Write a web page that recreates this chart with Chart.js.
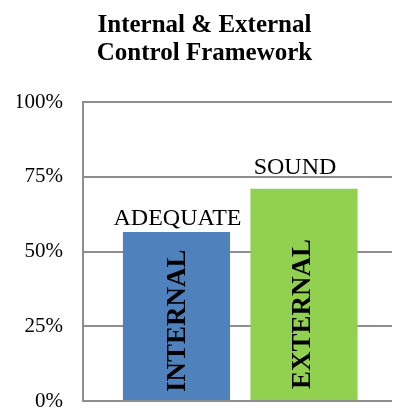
<!DOCTYPE html>
<html>
<head>
<meta charset="utf-8">
<script src="https://cdn.jsdelivr.net/npm/chart.js@4.4.0/dist/chart.umd.min.js"></script>
<style>
    html, body { margin: 0; padding: 0; background: #fff; }
    #wrap { width: 393px; height: 408px; }
</style>
</head>
<body>
<div id="wrap"><canvas id="grafico" width="393" height="408"></canvas></div>
<script>
// dados do gráfico
const categorias = ['INTERNAL', 'EXTERNAL'];
const valores = [56.5, 71];
const avaliacoes = ['ADEQUATE', 'SOUND'];
const ticksY = [0, 25, 50, 75, 100];

const serif = '"Liberation Serif", "Times New Roman", serif';

// desenha os rótulos sobre e dentro das barras
const rotulosPlugin = {
    id: 'rotulos',
    afterDatasetsDraw(chart, args, opts) {
        const ctx = chart.ctx;
        const meta = chart.getDatasetMeta(0);
        meta.data.forEach(function (bar, i) {
            ctx.save();
            // avaliação acima da barra
            ctx.fillStyle = '#000';
            ctx.font = '24px ' + serif;
            ctx.textAlign = 'center';
            ctx.textBaseline = 'alphabetic';
            ctx.fillText(avaliacoes[i], bar.x + opts.topDx[i], bar.y - opts.gap[i]);
            // categoria na vertical dentro da barra
            ctx.translate(bar.x + opts.dx[i], bar.base - opts.bottom[i]);
            ctx.rotate(-Math.PI / 2);
            ctx.font = 'bold 27px ' + serif;
            ctx.textAlign = 'left';
            ctx.textBaseline = 'middle';
            ctx.fillText(categorias[i], 0, 0);
            ctx.restore();
        });
    }
};

const ctx = document.getElementById('grafico').getContext('2d');
new Chart(ctx, {
    type: 'bar',
    data: {
        labels: [0, 1],
        datasets: [{
            data: valores.map(function (v, i) { return { x: i, y: v }; }),
            backgroundColor: ['#4F81BD', '#92D050'],
            borderWidth: 0,
            categoryPercentage: 0.84,
            barPercentage: 1
        }]
    },
    options: {
        responsive: false,
        animation: false,
        layout: { padding: { left: 17, right: 1, top: 0, bottom: 7 } },
        plugins: {
            legend: { display: false },
            tooltip: { enabled: false },
            title: {
                display: true,
                text: ['Internal & External', 'Control Framework'],
                color: '#000',
                font: { family: serif, size: 25, weight: 'bold', lineHeight: 1.1 },
                padding: { top: 12, bottom: 35 }
            },
            rotulos: { gap: [7, 15], topDx: [1, -9], bottom: [8, 11], dx: [2, -1] }
        },
        scales: {
            x: {
                type: 'linear',
                display: false,
                offset: false,
                min: -0.733,
                max: 1.69,
                afterBuildTicks: function (scale) {
                    scale.ticks = [{ value: 0 }, { value: 1 }];
                }
            },
            y: {
                min: 0,
                max: 100,
                afterFit: function (scale) {
                    scale.width = 66;
                    scale.paddingTop = 0;
                    scale.paddingBottom = 0;
                },
                afterBuildTicks: function (scale) {
                    scale.ticks = ticksY.map(function (v) { return { value: v }; });
                },
                ticks: {
                    padding: 20,
                    color: '#000',
                    font: { family: serif, size: 21 },
                    callback: function (v) { return v + '%'; }
                },
                grid: { color: '#8e8e8e', lineWidth: 2, drawTicks: false },
                border: { color: '#8e8e8e', width: 2 }
            }
        }
    },
    plugins: [rotulosPlugin]
});
</script>
</body>
</html>
